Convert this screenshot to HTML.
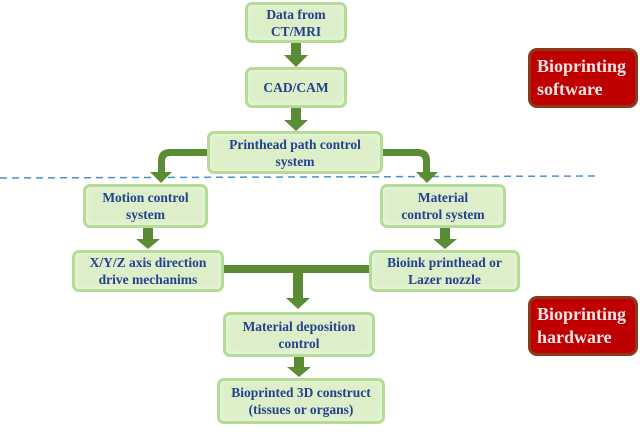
<!DOCTYPE html>
<html><head><style>
body{margin:0;width:640px;height:437px;background:#fff;position:relative;overflow:hidden;font-family:"Liberation Serif",serif;}
.b{position:absolute;box-sizing:border-box;background:#dcefc8;border:3px solid #b5dc96;border-radius:7px;color:#23418f;font-weight:bold;font-size:13.5px;line-height:17px;text-align:center;display:flex;align-items:center;justify-content:center;box-shadow:inset 0 0 6px #eef8e4;}
.r{position:absolute;box-sizing:border-box;background:#c00000;border:3px solid #8a3a1a;border-radius:9px;color:#f2e6e6;font-weight:bold;font-size:18px;line-height:23px;padding-left:6px;display:flex;align-items:center;}
</style></head><body>
<svg width="640" height="437" style="position:absolute;left:0;top:0">
<line x1="0" y1="178" x2="598" y2="176" stroke="#4a90d9" stroke-width="1.5" stroke-dasharray="7,5"/>
<g fill="#5a8c35">
<rect x="291" y="42" width="10" height="13"/><polygon points="284,55 308,55 296,67"/>
<rect x="291" y="108" width="10" height="12"/><polygon points="284,120 308,120 296,131"/>
<rect x="143" y="228" width="10" height="11"/><polygon points="136,239 160,239 148,249"/>
<rect x="440" y="228" width="10" height="11"/><polygon points="433,239 457,239 445,249"/>
<rect x="224" y="265" width="145" height="8"/>
<rect x="293" y="273" width="10" height="26"/><polygon points="286,298 310,298 298,309"/>
<rect x="294" y="357" width="10" height="10"/><polygon points="287,367 311,367 299,377"/>
<path d="M207 149 L170 149 Q158 149 158 161 L158 174 L165 174 L165 161 Q165 156 170 156 L207 156Z"/>
<polygon points="150,172 172,172 161,183"/>
<path d="M383 149 L418 149 Q430 149 430 161 L430 174 L423 174 L423 161 Q423 156 418 156 L383 156Z"/>
<polygon points="416,172 438,172 427,183"/>
</g></svg>
<div class="b" style="left:245px;top:2px;width:102px;height:41px">Data from<br>CT/MRI</div>
<div class="b" style="left:245px;top:67px;width:102px;height:41px">CAD/CAM</div>
<div class="b" style="left:207px;top:131px;width:176px;height:43px">Printhead path control<br>system</div>
<div class="b" style="left:83px;top:184px;width:125px;height:44px">Motion control<br>system</div>
<div class="b" style="left:380px;top:184px;width:126px;height:44px">Material<br>control system</div>
<div class="b" style="left:72px;top:250px;width:152px;height:42px">X/Y/Z axis direction<br>drive mechanims</div>
<div class="b" style="left:369px;top:250px;width:151px;height:42px">Bioink printhead or<br>Lazer nozzle</div>
<div class="b" style="left:223px;top:312px;width:152px;height:45px">Material deposition<br>control</div>
<div class="b" style="left:217px;top:378px;width:168px;height:46px">Bioprinted 3D construct<br>(tissues or organs)</div>
<div class="r" style="left:528px;top:48px;width:110px;height:60px">Bioprinting<br>software</div>
<div class="r" style="left:528px;top:296px;width:110px;height:60px">Bioprinting<br>hardware</div>
</body></html>
